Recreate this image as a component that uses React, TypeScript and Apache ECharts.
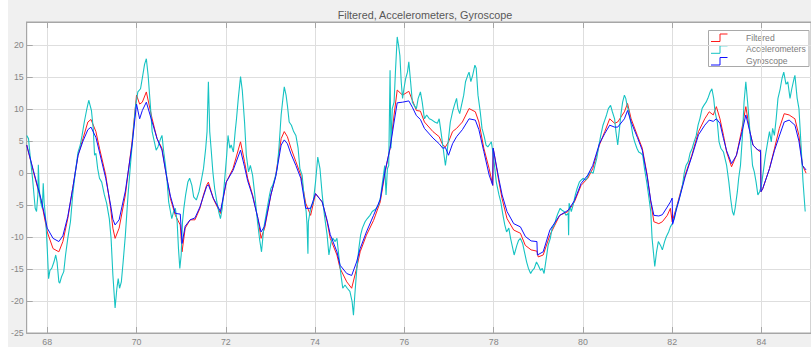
import React, { useEffect, useRef } from "react";
import * as echarts from "echarts";

const TITLE = "Filtered, Accelerometers, Gyroscope";
const SERIES_NAMES = ["Filtered", "Accelerometers", "Gyroscope"];
const SERIES_COLORS = ["#ff1a1a", "#16c3c3", "#1010ff"];
const X_TICKS = [68, 70, 72, 74, 76, 78, 80, 82, 84];
const Y_TICKS = [-25, -20, -15, -10, -5, 0, 5, 10, 15, 20];
const X_RANGE = [67.54, 85.11];
const Y_RANGE = [-25, 23.64];

// [time, value]
const filtered: [number, number][] = [
  [67.54, 4.4], [67.69, 0.2], [67.87, -4.5], [68.0, -9.2], [68.13, -11.8], [68.26, -12.3],
  [68.35, -10.7], [68.46, -7.1], [68.57, -2.4], [68.69, 2.8], [68.8, 5.4], [68.91, 8.0],
  [68.98, 8.4], [69.09, 6.5], [69.17, 3.9], [69.31, -0.3], [69.42, -5.5], [69.47, -8.6],
  [69.52, -10.2], [69.61, -8.6], [69.75, -3.4], [69.9, 4.9], [70.0, 12.2], [70.07, 10.8],
  [70.13, 11.1], [70.22, 12.7], [70.35, 8.5], [70.46, 5.4], [70.57, 3.9], [70.68, -0.8],
  [70.76, -4.0], [70.87, -6.6], [70.98, -8.1], [71.02, -12.3], [71.09, -8.6], [71.2, -7.3],
  [71.31, -7.3], [71.42, -5.5], [71.5, -3.4], [71.57, -1.9], [71.61, -1.4], [71.72, -4.0],
  [71.88, -6.3], [72.01, -1.4], [72.16, 0.7], [72.33, 4.9], [72.42, 1.8], [72.49, -0.8],
  [72.6, -3.4], [72.72, -7.1], [72.79, -10.2], [72.87, -8.6], [73.01, -3.4], [73.12, -0.3],
  [73.24, 5.4], [73.31, 6.5], [73.38, 5.7], [73.46, 3.9], [73.57, 1.8], [73.68, -0.3],
  [73.79, -4.7], [73.9, -6.6], [74.01, -3.2], [74.16, -4.5], [74.27, -7.6], [74.34, -10.2],
  [74.49, -12.8], [74.56, -14.9], [74.71, -17.0], [74.82, -18.0], [74.93, -14.9], [75.01, -12.3],
  [75.15, -9.7], [75.31, -7.4], [75.46, -4.5], [75.57, 0.2], [75.68, 3.9], [75.77, 9.1],
  [75.84, 13.0], [75.96, 12.2], [76.1, 12.8], [76.18, 11.4], [76.27, 9.8], [76.36, 9.7],
  [76.45, 8.0], [76.64, 6.5], [76.78, 5.7], [76.86, 4.4], [76.92, 4.1], [76.99, 4.9],
  [77.08, 6.5], [77.17, 7.0], [77.3, 8.0], [77.45, 10.1], [77.59, 9.6], [77.67, 8.0],
  [77.78, 3.9], [77.9, 0.7], [77.98, -1.9], [77.99, 3.9], [78.12, -1.4], [78.19, -4.0],
  [78.3, -7.1], [78.45, -8.9], [78.6, -9.4], [78.71, -11.3], [78.84, -12.0], [78.97, -12.2],
  [79.0, -13.1], [79.11, -12.8], [79.26, -9.7], [79.48, -6.6], [79.67, -6.0], [79.81, -4.5],
  [79.96, -1.9], [80.11, -0.8], [80.22, 0.7], [80.37, 4.4], [80.49, 6.5], [80.6, 8.5],
  [80.71, 7.8], [80.78, 8.0], [80.93, 9.6], [81.0, 10.9], [81.08, 8.5], [81.22, 5.9],
  [81.33, 3.9], [81.44, -0.3], [81.52, -4.5], [81.59, -7.6], [81.7, -7.9], [81.78, -7.6],
  [81.89, -6.6], [81.96, -5.5], [82.0, -7.6], [82.11, -5.0], [82.29, -0.3], [82.44, 2.8],
  [82.59, 6.5], [82.73, 8.5], [82.83, 9.6], [82.92, 9.1], [82.99, 10.4], [83.07, 8.5],
  [83.15, 5.9], [83.22, 3.3], [83.33, 1.0], [83.44, 2.8], [83.55, 6.5], [83.65, 10.4],
  [83.74, 6.5], [83.81, 4.4], [83.92, 3.6], [83.98, 3.3], [83.99, -2.9], [84.03, -2.4],
  [84.18, 0.7], [84.29, 3.8], [84.4, 7.0], [84.51, 9.3], [84.62, 9.1], [84.75, 8.5],
  [84.84, 5.9], [84.92, 1.2], [85.0, 0.0],
];

const accelerometers: [number, number][] = [
  [67.54, 5.9], [67.58, 5.4], [67.6, 3.9], [67.63, 1.8], [67.67, -0.8], [67.73, -5.5],
  [67.76, -6.0], [67.79, -3.4], [67.8, 1.3], [67.82, -2.4], [67.85, -4.5], [67.89, -5.5],
  [67.91, -1.6], [67.93, -4.5], [67.97, -7.6], [68.0, -11.8], [68.03, -16.5], [68.06, -15.2],
  [68.1, -14.9], [68.15, -13.9], [68.19, -12.8], [68.22, -13.9], [68.26, -17.0], [68.28, -17.2],
  [68.32, -16.2], [68.37, -15.4], [68.41, -12.8], [68.46, -10.2], [68.52, -7.6], [68.57, -3.4],
  [68.63, 0.2], [68.69, 3.3], [68.74, 4.4], [68.78, 5.9], [68.83, 8.0], [68.88, 9.8],
  [68.93, 11.4], [68.96, 10.6], [68.99, 9.8], [69.03, 7.0], [69.06, 2.8], [69.09, 3.1],
  [69.13, 0.7], [69.17, -0.8], [69.22, -1.4], [69.28, -3.4], [69.33, -4.7], [69.39, -7.1],
  [69.43, -10.2], [69.47, -15.9], [69.52, -21.1], [69.56, -18.0], [69.59, -16.5], [69.62, -18.0],
  [69.66, -17.0], [69.7, -13.9], [69.75, -9.7], [69.81, -3.4], [69.87, 1.8], [69.92, 5.9],
  [69.98, 10.6], [70.03, 12.7], [70.09, 13.2], [70.14, 15.3], [70.18, 17.0], [70.22, 17.9],
  [70.26, 15.3], [70.31, 10.6], [70.35, 6.5], [70.4, 4.9], [70.44, 3.6], [70.48, 4.1],
  [70.54, 5.4], [70.57, 5.9], [70.61, 3.3], [70.65, 1.2], [70.68, -0.8], [70.72, -4.5],
  [70.76, -6.0], [70.79, -7.1], [70.83, -6.0], [70.87, -5.5], [70.91, -7.6], [70.94, -11.8],
  [70.97, -14.9], [71.0, -12.8], [71.03, -7.6], [71.06, -5.5], [71.1, -3.4], [71.15, -1.4],
  [71.19, -0.8], [71.24, -1.9], [71.28, -3.7], [71.34, -4.2], [71.4, -2.9], [71.46, -0.8],
  [71.5, 0.7], [71.55, 3.9], [71.58, 6.5], [71.61, 14.3], [71.64, 6.5], [71.67, 3.9],
  [71.71, 0.2], [71.75, -2.4], [71.8, -4.5], [71.84, -6.0], [71.88, -7.1], [71.92, -5.5],
  [71.97, -1.4], [72.02, 2.8], [72.05, 5.9], [72.09, 3.9], [72.12, 4.4], [72.17, 3.3],
  [72.21, 6.5], [72.24, 8.5], [72.28, 11.7], [72.33, 15.1], [72.37, 12.9], [72.42, 8.0],
  [72.46, 2.8], [72.51, 0.2], [72.55, 1.2], [72.6, -0.3], [72.65, -3.4], [72.71, -7.6],
  [72.76, -10.5], [72.8, -12.3], [72.85, -8.6], [72.9, -6.6], [72.98, -3.4], [73.01, -2.4],
  [73.05, -1.9], [73.1, -0.8], [73.15, 0.7], [73.19, 3.9], [73.24, 9.1], [73.28, 11.7],
  [73.31, 13.5], [73.35, 12.2], [73.38, 10.6], [73.42, 8.0], [73.47, 7.5], [73.52, 6.5],
  [73.57, 5.9], [73.62, 3.9], [73.66, 0.7], [73.71, -0.3], [73.75, -3.4], [73.8, -6.0],
  [73.82, -8.1], [73.84, -12.6], [73.85, -7.6], [73.9, -5.5], [73.96, -4.5], [74.01, -1.4],
  [74.06, 2.5], [74.11, 0.7], [74.16, -3.4], [74.21, -6.6], [74.27, -9.7], [74.31, -12.8],
  [74.36, -10.7], [74.4, -10.2], [74.45, -10.7], [74.49, -10.2], [74.53, -12.8], [74.58, -15.9],
  [74.62, -18.0], [74.67, -17.5], [74.72, -18.0], [74.78, -18.5], [74.83, -20.1], [74.86, -22.2],
  [74.89, -19.1], [74.93, -15.4], [74.98, -11.8], [75.02, -9.7], [75.06, -8.6], [75.12, -7.6],
  [75.17, -7.1], [75.23, -6.6], [75.28, -6.0], [75.36, -5.6], [75.42, -5.0], [75.46, -4.0],
  [75.51, -1.4], [75.56, 1.2], [75.59, -3.4], [75.62, 0.7], [75.65, 1.2], [75.68, 16.1],
  [75.7, 3.9], [75.73, 10.1], [75.77, 11.1], [75.8, 15.8], [75.84, 21.3], [75.87, 20.0],
  [75.9, 18.4], [75.93, 14.3], [75.96, 11.7], [75.99, 13.2], [76.03, 14.8], [76.07, 15.8],
  [76.1, 17.4], [76.14, 14.3], [76.18, 11.1], [76.22, 10.6], [76.27, 10.1], [76.31, 11.7],
  [76.36, 12.7], [76.4, 11.1], [76.45, 8.5], [76.5, 9.1], [76.56, 8.5], [76.62, 8.3],
  [76.68, 8.0], [76.74, 7.8], [76.78, 8.5], [76.82, 6.5], [76.86, 4.4], [76.89, 2.8],
  [76.92, 1.2], [76.95, 2.8], [76.99, 5.4], [77.03, 8.0], [77.08, 9.6], [77.12, 10.6],
  [77.17, 11.7], [77.2, 10.1], [77.24, 9.3], [77.28, 10.6], [77.33, 12.2], [77.37, 14.3],
  [77.42, 15.3], [77.45, 15.8], [77.49, 14.3], [77.53, 15.3], [77.58, 16.9], [77.61, 16.4],
  [77.65, 12.2], [77.7, 9.6], [77.74, 7.0], [77.79, 5.7], [77.83, 4.4], [77.87, 4.1],
  [77.92, 4.6], [77.95, 4.9], [77.97, 3.9], [78.01, 1.8], [78.06, -1.4], [78.12, -3.4],
  [78.16, -4.5], [78.21, -6.6], [78.25, -8.1], [78.29, -9.2], [78.34, -8.6], [78.38, -10.2],
  [78.43, -11.8], [78.46, -12.8], [78.52, -11.3], [78.56, -10.5], [78.6, -10.2], [78.65, -11.0],
  [78.69, -12.3], [78.74, -13.9], [78.78, -14.9], [78.83, -15.7], [78.87, -15.2], [78.91, -14.9],
  [78.96, -13.9], [79.0, -14.4], [79.05, -15.2], [79.09, -14.9], [79.13, -15.7], [79.18, -13.3],
  [79.22, -11.3], [79.27, -10.2], [79.31, -8.6], [79.36, -8.1], [79.4, -7.1], [79.44, -6.3],
  [79.49, -5.5], [79.53, -5.8], [79.58, -6.0], [79.62, -6.6], [79.67, -6.3], [79.68, -9.7],
  [79.69, -4.7], [79.74, -6.0], [79.78, -5.0], [79.83, -3.4], [79.87, -2.4], [79.92, -1.4],
  [79.96, -1.1], [80.01, -0.8], [80.05, -1.1], [80.09, -0.8], [80.14, 0.0], [80.18, 0.2],
  [80.23, 0.0], [80.27, 1.2], [80.31, 2.3], [80.36, 4.4], [80.4, 5.9], [80.45, 7.5],
  [80.49, 8.3], [80.53, 9.1], [80.57, 10.1], [80.62, 10.6], [80.66, 9.6], [80.71, 8.5],
  [80.74, 6.5], [80.78, 4.4], [80.82, 7.0], [80.85, 9.1], [80.89, 11.1], [80.93, 12.2],
  [80.96, 11.7], [80.99, 10.6], [81.03, 9.6], [81.07, 8.0], [81.12, 5.9], [81.16, 4.9],
  [81.21, 3.9], [81.25, 3.3], [81.3, 3.1], [81.34, 2.8], [81.38, 0.7], [81.43, -1.4],
  [81.47, -3.4], [81.52, -6.0], [81.55, -10.2], [81.61, -14.6], [81.65, -12.3], [81.69, -10.7],
  [81.74, -11.3], [81.78, -12.0], [81.83, -10.7], [81.87, -9.9], [81.92, -9.2], [81.96, -8.4],
  [82.0, -7.9], [82.05, -7.1], [82.09, -5.5], [82.14, -4.5], [82.18, -3.4], [82.23, -1.9],
  [82.27, 0.0], [82.31, 1.2], [82.36, 1.8], [82.4, 3.1], [82.45, 3.9], [82.49, 4.9],
  [82.54, 5.9], [82.58, 7.5], [82.62, 8.5], [82.67, 10.1], [82.71, 10.6], [82.76, 11.1],
  [82.8, 11.7], [82.85, 12.7], [82.89, 13.2], [82.93, 11.7], [82.96, 9.6], [83.01, 8.0],
  [83.05, 4.9], [83.09, 3.9], [83.15, 3.3], [83.22, 1.2], [83.27, -1.4], [83.31, -4.0],
  [83.35, -6.0], [83.38, -6.6], [83.41, -5.5], [83.46, -2.9], [83.49, -0.8], [83.53, 1.2],
  [83.57, 5.4], [83.61, 11.1], [83.65, 14.3], [83.69, 11.1], [83.72, 8.5], [83.77, 3.9],
  [83.8, 1.2], [83.84, 0.2], [83.88, -1.4], [83.92, -3.4], [83.96, -2.9], [84.0, -1.9],
  [84.05, 0.7], [84.09, 2.8], [84.14, 4.9], [84.18, 6.5], [84.22, 4.9], [84.25, 7.0],
  [84.29, 5.9], [84.33, 8.5], [84.37, 11.7], [84.42, 13.2], [84.46, 14.8], [84.5, 15.8],
  [84.55, 13.9], [84.59, 14.3], [84.64, 11.7], [84.68, 13.2], [84.73, 14.8], [84.75, 15.3],
  [84.8, 11.7], [84.84, 10.1], [84.89, 4.0], [84.93, -1.2], [84.98, -6.0],
];

const gyroscope: [number, number][] = [
  [67.54, 4.4], [67.69, 0.4], [67.87, -4.3], [68.0, -8.6], [68.13, -10.2], [68.26, -10.7],
  [68.35, -9.8], [68.46, -6.8], [68.57, -2.4], [68.69, 2.8], [68.8, 5.0], [68.91, 6.8],
  [68.98, 7.2], [69.09, 5.6], [69.17, 3.3], [69.31, -0.8], [69.42, -5.0], [69.47, -7.2],
  [69.52, -8.1], [69.61, -7.3], [69.75, -2.8], [69.9, 4.4], [70.0, 10.8], [70.07, 8.5],
  [70.13, 9.8], [70.22, 11.1], [70.35, 8.0], [70.46, 5.4], [70.57, 3.6], [70.68, -0.8],
  [70.76, -3.6], [70.87, -6.3], [70.98, -6.4], [71.02, -11.0], [71.09, -8.3], [71.2, -7.3],
  [71.31, -7.0], [71.42, -5.3], [71.5, -3.6], [71.57, -2.1], [71.61, -1.8], [71.72, -3.9],
  [71.88, -6.0], [72.01, -1.4], [72.16, 0.4], [72.33, 3.6], [72.42, 1.0], [72.49, -1.2],
  [72.6, -3.6], [72.72, -7.1], [72.79, -9.2], [72.87, -8.3], [73.01, -3.4], [73.12, -0.5],
  [73.24, 4.4], [73.31, 5.2], [73.38, 4.6], [73.46, 3.0], [73.57, 1.2], [73.68, -0.8],
  [73.79, -5.5], [73.9, -5.5], [74.01, -3.2], [74.16, -4.5], [74.27, -7.4], [74.34, -9.6],
  [74.49, -12.3], [74.56, -14.4], [74.71, -15.7], [74.82, -16.0], [74.93, -13.9], [75.01, -11.8],
  [75.15, -9.2], [75.31, -6.6], [75.46, -4.1], [75.57, 0.4], [75.68, 3.9], [75.77, 8.0],
  [75.84, 11.0], [75.96, 11.1], [76.1, 11.3], [76.18, 10.3], [76.27, 9.0], [76.36, 8.4],
  [76.45, 7.0], [76.64, 5.5], [76.78, 4.6], [76.86, 3.9], [76.92, 4.0], [76.99, 2.8],
  [77.08, 4.6], [77.17, 5.7], [77.3, 6.8], [77.45, 8.5], [77.59, 8.3], [77.67, 6.8],
  [77.78, 3.4], [77.9, -0.3], [77.98, -1.9], [77.99, 3.9], [78.12, -1.0], [78.19, -3.4],
  [78.3, -6.0], [78.45, -7.9], [78.6, -8.4], [78.71, -9.9], [78.84, -10.6], [78.97, -10.7],
  [78.98, -12.8], [79.11, -12.3], [79.26, -8.9], [79.48, -6.6], [79.67, -5.8], [79.81, -4.3],
  [79.96, -1.6], [80.11, -0.3], [80.22, 1.2], [80.37, 4.6], [80.49, 6.2], [80.6, 7.5],
  [80.71, 7.2], [80.78, 7.2], [80.93, 8.5], [81.0, 9.8], [81.08, 8.0], [81.22, 5.6],
  [81.33, 3.6], [81.44, -0.5], [81.52, -4.3], [81.59, -6.6], [81.7, -6.7], [81.78, -6.5],
  [81.89, -5.3], [81.96, -4.5], [82.0, -3.9], [82.01, -8.0], [82.11, -5.3], [82.29, -0.6],
  [82.44, 2.6], [82.59, 6.0], [82.73, 7.5], [82.83, 8.3], [82.92, 8.1], [82.99, 8.5],
  [83.07, 7.8], [83.15, 5.4], [83.22, 3.5], [83.33, 1.5], [83.44, 2.8], [83.55, 6.0],
  [83.65, 9.1], [83.74, 6.5], [83.81, 4.4], [83.92, 3.6], [83.98, 3.6], [83.99, -2.9],
  [84.03, -2.4], [84.18, 0.7], [84.29, 3.5], [84.4, 5.8], [84.51, 8.0], [84.62, 8.3],
  [84.75, 7.5], [84.84, 5.0], [84.92, 1.2], [85.0, 0.5],
];

const SERIES_DATA = [filtered, accelerometers, gyroscope];
const SERIES_WIDTHS = [1, 1.1, 1];

const FONT = "'Liberation Sans', Arial, sans-serif";
const AXIS_COLOR = "#a6a6a6";
const GRID_COLOR = "#dedede";
const LABEL_COLOR = "#868686";

function legendGraphic() {
  const rows = [37.5, 49.3, 61];
  const children: any[] = [
    {
      type: "rect",
      shape: { x: 700.5, y: 30.5, width: 100.5, height: 36 },
      style: { fill: "#ffffff", stroke: "#a9a9a9", lineWidth: 1 },
    },
  ];
  SERIES_NAMES.forEach((name, i) => {
    const y = rows[i];
    children.push({
      type: "polyline",
      shape: {
        points: [
          [703, y + 4],
          [712, y + 4],
          [712, y - 3.5],
          [719.5, y - 3.5],
        ],
      },
      style: { stroke: SERIES_COLORS[i], lineWidth: 1, fill: "none" },
    });
    children.push({
      type: "text",
      x: 738,
      y,
      style: {
        text: name,
        fill: "#7c7c7c",
        fontSize: 8.6,
        fontFamily: FONT,
        verticalAlign: "middle",
        align: "left",
      },
    });
  });
  return { type: "group", z: 100, children };
}

export default function App() {
  const ref = useRef<HTMLDivElement>(null);

  useEffect(() => {
    if (!ref.current) return;
    const chart = echarts.init(ref.current, undefined, { renderer: "svg" });
    const xAxisBase = {
      type: "value",
      min: X_RANGE[0],
      max: X_RANGE[1],
      axisLine: { show: true, onZero: false, lineStyle: { color: AXIS_COLOR, width: 1 } },
      axisTick: {
        show: true,
        inside: true,
        length: 6,
        customValues: X_TICKS,
        lineStyle: { color: AXIS_COLOR },
      },
    };
    chart.setOption({
      animation: false,
      backgroundColor: "#f0f0f0",
      title: {
        text: TITLE,
        left: 412,
        top: 4,
        textAlign: "center",
        textStyle: {
          fontSize: 10.8,
          fontWeight: "normal",
          color: "#585858",
          fontFamily: FONT,
        },
      },
      grid: {
        left: 15,
        top: 22,
        right: -6,
        bottom: 14,
        show: true,
        backgroundColor: "#ffffff",
        borderColor: AXIS_COLOR,
        borderWidth: 1,
      },
      xAxis: [
        {
          ...xAxisBase,
          position: "bottom",
          axisLabel: {
            customValues: X_TICKS,
            color: LABEL_COLOR,
            fontSize: 8.8,
            fontFamily: FONT,
            margin: 4,
          },
          splitLine: { show: true, lineStyle: { color: GRID_COLOR, width: 1 } },
        },
        {
          ...xAxisBase,
          position: "top",
          axisLabel: { show: false },
          splitLine: { show: false },
        },
      ],
      yAxis: {
        type: "value",
        min: Y_RANGE[0],
        max: Y_RANGE[1],
        axisLine: { show: true, onZero: false, lineStyle: { color: AXIS_COLOR, width: 1 } },
        axisTick: {
          show: true,
          inside: true,
          length: 6,
          customValues: Y_TICKS,
          lineStyle: { color: AXIS_COLOR },
        },
        axisLabel: {
          customValues: Y_TICKS,
          color: LABEL_COLOR,
          fontSize: 8.8,
          fontFamily: FONT,
          margin: 3,
        },
        splitLine: { show: true, lineStyle: { color: GRID_COLOR, width: 1 } },
      },
      series: SERIES_NAMES.map((name, i) => ({
        name,
        type: "line",
        xAxisIndex: 0,
        data: SERIES_DATA[i],
        showSymbol: false,
        symbol: "none",
        clip: true,
        z: 2 + i,
        lineStyle: { color: SERIES_COLORS[i], width: SERIES_WIDTHS[i] },
        itemStyle: { color: SERIES_COLORS[i] },
      })),
      graphic: [legendGraphic()],
    });
    return () => chart.dispose();
  }, []);

  return (
    <div
      style={{
        position: "fixed",
        left: 0,
        top: 0,
        width: 811,
        height: 347,
        background: "#ffffff",
      }}
    >
      <div
        ref={ref}
        style={{ position: "absolute", left: 8, top: 0, width: 803, height: 347 }}
      />
    </div>
  );
}
